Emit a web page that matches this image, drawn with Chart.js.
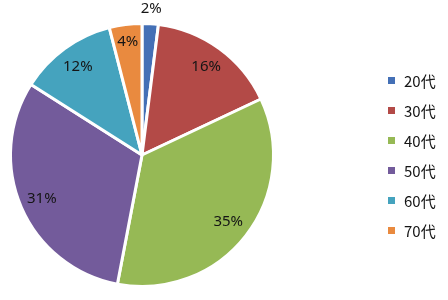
<!DOCTYPE html>
<html>
<head>
<meta charset="utf-8">
<script src="https://cdn.jsdelivr.net/npm/chart.js@4/dist/chart.umd.min.js"></script>
<style>
  html, body { margin: 0; padding: 0; background: #fff; }
  #wrap { position: relative; width: 448px; height: 300px; }
  #legend {
    position: absolute; left: 388px; top: 70px; margin: 0; padding: 0; list-style: none;
    font-family: "Noto Sans CJK JP", "Noto Sans", sans-serif; font-size: 15px; color: #151515;
  }
  #legend li { display: flex; align-items: center; height: 20px; margin-bottom: 10px; }
  #legend span.box { display: inline-block; width: 7px; height: 7px; margin-right: 9px; }
</style>
</head>
<body>
<div id="wrap">
  <canvas id="pie" width="448" height="300"></canvas>
  <ul id="legend"></ul>
</div>
<script>
const labels = ['20代', '30代', '40代', '50代', '60代', '70代'];
const shares = [2, 16, 35, 31, 12, 4];
const colors = ['#4470B6', '#B34A47', '#96B955', '#735B9B', '#45A3BE', '#E98A3F'];

// percentage labels on the slices, small ones pushed outside
const sliceLabels = {
  id: 'sliceLabels',
  afterDatasetsDraw(chart) {
    const ctx = chart.ctx;
    const meta = chart.getDatasetMeta(0);
    ctx.save();
    ctx.font = '15px "Noto Sans", sans-serif';
    ctx.fillStyle = '#151515';
    ctx.textAlign = 'center';
    ctx.textBaseline = 'middle';
    meta.data.forEach((arc, i) => {
      const { x, y, startAngle, endAngle, outerRadius } = arc.getProps(['x', 'y', 'startAngle', 'endAngle', 'outerRadius'], true);
      const mid = (startAngle + endAngle) / 2;
      const v = shares[i];
      const d = v < 3 ? outerRadius + 15 : v < 6 ? outerRadius * 0.87 : outerRadius * 0.83;
      ctx.fillText(v + '%', x + Math.cos(mid) * d, y + Math.sin(mid) * d);
    });
    ctx.restore();
  }
};

const chart = new Chart(document.getElementById('pie'), {
  type: 'pie',
  data: {
    labels: labels,
    datasets: [{
      data: shares,
      backgroundColor: colors,
      borderColor: '#ffffff',
      borderWidth: 3
    }]
  },
  options: {
    responsive: false,
    animation: false,
    layout: { padding: { left: 8, right: 172, top: 22, bottom: 12 } },
    plugins: {
      legend: { display: false },
      tooltip: { enabled: false }
    }
  },
  plugins: [sliceLabels]
});

const legendEl = document.getElementById('legend');
legendEl.innerHTML = labels.map((l, i) => `
  <li><span class="box" style="background:${colors[i]}"></span>${l}</li>
`).join('');
</script>
</body>
</html>
